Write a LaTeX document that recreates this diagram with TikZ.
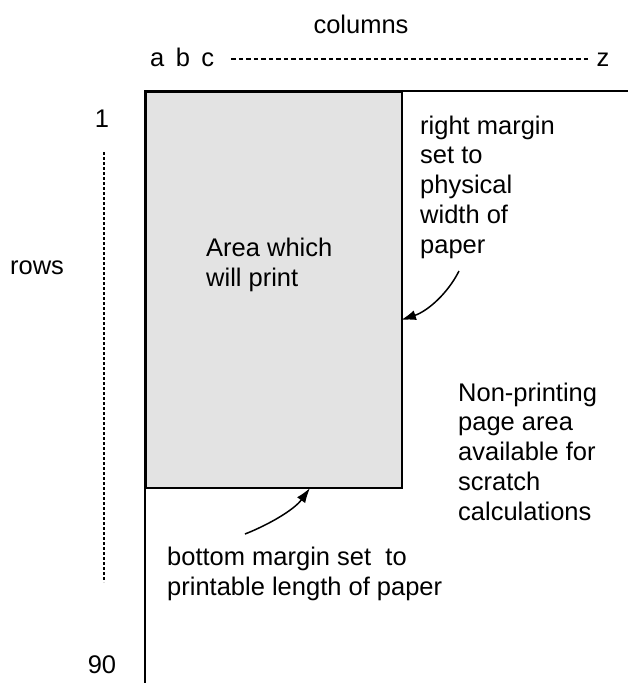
\documentclass[tikz,border=0pt]{standalone}
\usepackage{fontspec}
\setmainfont{Liberation Sans}
\usetikzlibrary{arrows.meta}
\definecolor{printgray}{HTML}{E3E3E3}
\begin{document}
\begin{tikzpicture}[x=1pt,y=-1pt,
  lbl/.style={inner sep=0pt, font=\fontsize{25.5}{29.9}\selectfont},
  % multi-line labels are placed by the baseline of their last line
  para/.style={lbl, align=left, anchor=base west},
  frame/.style={line width=2pt},
  pointer/.style={line width=1.5pt, -{Latex[length=15pt,width=10pt]}},
  guide/.style={line width=1.2pt, dash pattern=on 4.5pt off 3pt},
  rowguide/.style={line width=2pt, dash pattern=on 3pt off 2pt},
]
\useasboundingbox (0,0) rectangle (628,683);
\fill[white] (0,0) rectangle (628,683);

% printable area of the sheet
\node[draw, fill=printgray, line width=1.6pt, minimum width=256pt,
      minimum height=396pt, anchor=north west, inner sep=0pt] (area) at (145,91) {};

% page edges (left and top)
\coordinate (pagebl) at (145,683);
\coordinate (pagetl) at (145,91);
\coordinate (pagetr) at (628,91);
\draw[frame] (pagebl) -- (pagetl) -- (pagetr);

% column labels
\node[lbl, anchor=base] (cols) at (361,33) {columns};
\node[lbl, anchor=base west] (abc) at (150,66) {a\hspace{0.45em}b\hspace{0.45em}c};
\node[lbl, anchor=base] (zcol) at (603,66) {z};
\draw[guide] ([xshift=17pt,yshift=7pt]abc.base east) -- ([xshift=-15pt,yshift=7pt]zcol.base);

% row labels
\node[lbl, anchor=base] (r1) at (102,127) {1};
\node[lbl, anchor=base] (r90) at (102,673) {90};
\node[lbl, anchor=base] (rows) at (37,274) {rows};
\coordinate (rowtop) at (104,152);
\coordinate (rowbot) at (104,582);
\draw[rowguide] (rowtop) -- (rowbot);

% explanatory texts
\node[para] (areatxt) at (206,286) {Area which\\will print};
\node[para] (righttxt) at (420,253.6) {right margin\\set to\\physical\\width of\\paper};
\node[para] (scratch) at (458,520.6) {Non-printing\\page area\\available for\\scratch\\calculations};
\node[para] (bottomtxt) at (167,595) {bottom margin set\ \ to\\printable length of paper};

% pointers to the margins
\coordinate (rstart) at (459,271);
\coordinate (rtip) at (401,320);
\draw[pointer] (rstart) .. controls (448,293) and (428,311) .. (rtip);
\coordinate (bstart) at (245,534);
\coordinate (btip) at (310,488);
\draw[pointer] (bstart) .. controls (268,525) and (294,510) .. (btip);
\end{tikzpicture}
\end{document}
